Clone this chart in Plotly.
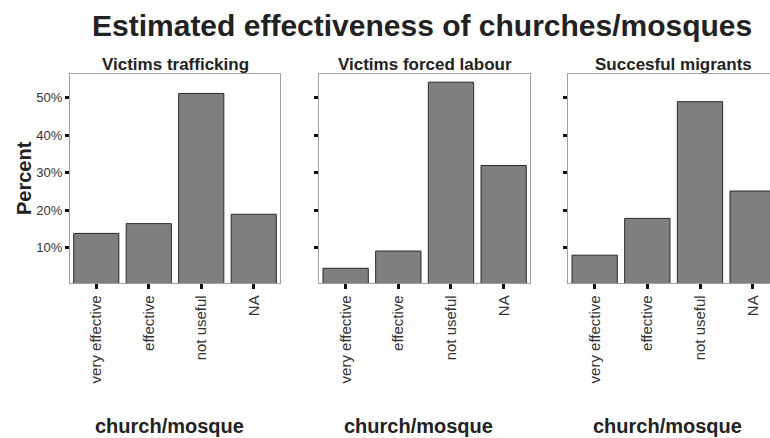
import plotly.graph_objects as go

categories = ["very effective", "effective", "not useful", "NA"]
panel_titles = ["Victims trafficking", "Victims forced labour", "Succesful migrants"]
trafficking = [13.8, 16.4, 51.1, 18.9]
forced_labour = [4.5, 9.1, 54.1, 31.9]
migrants = [8.0, 17.8, 48.9, 25.1]
y_ticks = [10, 20, 30, 40, 50]
y_tick_labels = ["10%", "20%", "30%", "40%", "50%"]
main_title = "Estimated effectiveness of churches/mosques"
x_title = "church/mosque"
y_title = "Percent"

W, H = 770, 438
FONT = "Liberation Sans, Arial, sans-serif"

def px_x(v):
    return v / W

def px_y(v):
    return 1 - v / H

series = [trafficking, forced_labour, migrants]
x_dom = [(70, 280), (319.3, 530), (568.3, 770)]
y_dom = [px_y(283.3), px_y(74.3)]

fig = go.Figure()
for i, vals in enumerate(series):
    sfx = "" if i == 0 else str(i + 1)
    fig.add_trace(go.Bar(
        x=categories, y=vals, width=0.86,
        marker=dict(color="#7f7f7f", line=dict(color="#2a2a2a", width=1)),
        xaxis="x" + sfx, yaxis="y" + sfx, showlegend=False, hoverinfo="skip",
    ))
    x0, x1 = x_dom[i]
    xr = [-0.5, 3.5] if i < 2 else [-0.5, 3.5 - (779 - 770) / 52.6]
    fig.layout["xaxis" + sfx] = dict(
        domain=[px_x(x0), px_x(x1)], anchor="y" + sfx, range=xr,
        type="category", categoryorder="array", categoryarray=categories,
        showline=True, linecolor="#a0a0a0", linewidth=1, mirror=True,
        ticks="outside", ticklen=5, tickwidth=3, tickcolor="#111",
        tickangle=-90, tickfont=dict(family=FONT, size=15, color="#333"),
        showgrid=False, zeroline=False, fixedrange=True, automargin=False,
    )
    fig.layout["yaxis" + sfx] = dict(
        domain=y_dom, anchor="x" + sfx, range=[0.5, 56.2],
        tickvals=y_ticks, ticktext=y_tick_labels, showticklabels=(i == 0),
        showline=True, linecolor="#a0a0a0", linewidth=1, mirror=(i < 2),
        ticks="outside", ticklen=4, tickwidth=3, tickcolor="#111",
        tickfont=dict(family=FONT, size=13, color="#333"),
        showgrid=False, zeroline=False, fixedrange=True, automargin=False,
    )

annotations = []
annotations.append(dict(text="<b>%s</b>" % main_title, x=px_x(421.5), y=px_y(26),
                        xref="paper", yref="paper", xanchor="center", yanchor="middle",
                        showarrow=False, font=dict(family=FONT, size=30, color="#222")))
centers = [175, 424.6, 673.5]
for i, t in enumerate(panel_titles):
    annotations.append(dict(text="<b>%s</b>" % t, x=px_x(centers[i]), y=px_y(64.5),
                            xref="paper", yref="paper", xanchor="center", yanchor="middle",
                            showarrow=False, font=dict(family=FONT, size=17, color="#222")))
    annotations.append(dict(text="<b>%s</b>" % x_title, x=px_x(centers[i] - 6), y=px_y(426),
                            xref="paper", yref="paper", xanchor="center", yanchor="middle",
                            showarrow=False, font=dict(family=FONT, size=20, color="#222")))
annotations.append(dict(text="<b>%s</b>" % y_title, x=px_x(24), y=px_y(178), textangle=-90,
                        xref="paper", yref="paper", xanchor="center", yanchor="middle",
                        showarrow=False, font=dict(family=FONT, size=20, color="#222")))

fig.update_layout(
    width=W, height=H, margin=dict(l=0, r=0, t=0, b=0, autoexpand=False),
    paper_bgcolor="white", plot_bgcolor="white", annotations=annotations,
    bargap=0.14, hovermode=False,
)
fig.write_html(
    "out.html",
    config={"displayModeBar": False, "staticPlot": True},
    post_script="document.body.style.margin='0';document.body.style.overflow='hidden';",
)
